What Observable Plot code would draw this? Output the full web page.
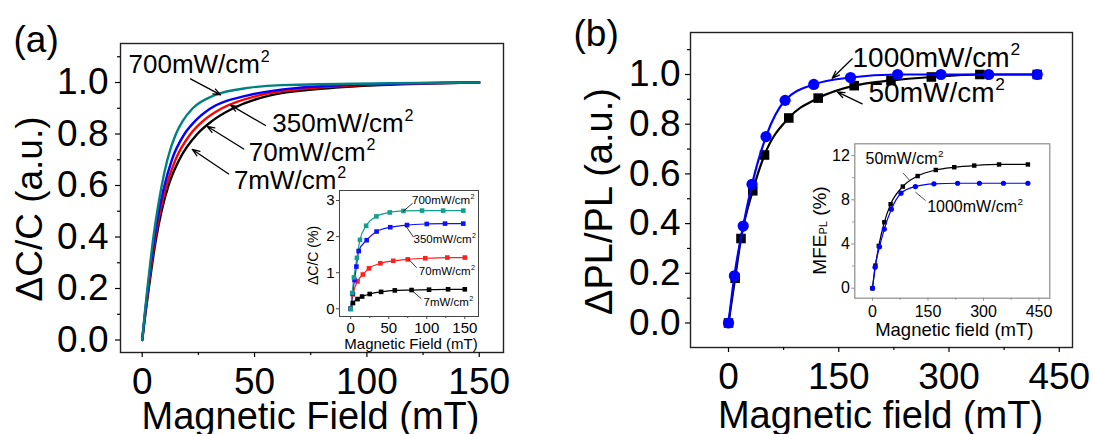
<!DOCTYPE html>
<html><head><meta charset="utf-8">
<script src="https://cdn.jsdelivr.net/npm/d3@7"></script>
<script src="https://cdn.jsdelivr.net/npm/@observablehq/plot@0.6"></script>
<style>
body{margin:0;background:#fff}
#fig{position:relative;width:1093px;height:434px;overflow:hidden;background:#fff}
</style>
</head><body><div id="fig"></div>
<script>
// ---------- Panel (a), main: normalized ΔC/C levels and field (mT) where each curve reaches them
const levelsA   = [0, 0.1, 0.2, 0.3, 0.4, 0.5, 0.6, 0.7, 0.8, 0.85, 0.9, 0.95, 0.98, 0.99, 1.0];
const fieldA700 = [0, 1.1, 2.3, 3.6, 5.0, 6.7, 8.7, 11.2, 15.0, 18.0, 22.5, 32, 48, 62, 150];
const fieldA350 = [0, 1.2, 2.5, 3.9, 5.5, 7.4, 9.9, 13.2, 18.8, 23.5, 30.5, 47, 70, 90, 150];
const fieldA70  = [0, 1.3, 2.7, 4.2, 5.9, 8.0, 10.8, 14.8, 21.5, 27, 35.5, 52, 78, 98, 150];
const fieldA7   = [0, 1.4, 2.9, 4.5, 6.3, 8.6, 11.7, 16.5, 24.5, 31, 40.5, 57, 86, 106, 150];
const seriesA   = ["7mW/cm", "70mW/cm", "350mW/cm", "700mW/cm"];
const colorsA   = ["#000000", "#ff0000", "#0000ff", "#008080"];

// ---------- Panel (a), inset: ΔC/C (%)
const fieldIA700 = [0, 2, 4.3, 8.2, 12.2, 20.3, 33.8, 51.4, 69.3, 93.8, 121.5, 148];
const dccIA700   = [0, 0.44, 0.87, 1.41, 1.91, 2.30, 2.56, 2.67, 2.71, 2.72, 2.72, 2.72];
const fieldIA350 = [0, 2.5, 5, 7.5, 10.5, 21, 34, 52, 74, 100, 124, 148];
const dccIA350   = [0, 0.42, 0.8, 1.17, 1.6, 1.9, 2.14, 2.26, 2.32, 2.35, 2.36, 2.36];
const fieldIA70  = [0, 3, 9, 16, 24, 39, 56, 75, 98, 127, 150];
const dccIA70    = [0, 0.4, 0.76, 0.95, 1.12, 1.26, 1.33, 1.37, 1.40, 1.42, 1.42];
const fieldIA7   = [0, 3, 9, 15, 25, 40, 58, 80, 103, 128, 150];
const dccIA7     = [0, 0.16, 0.27, 0.34, 0.41, 0.47, 0.51, 0.52, 0.53, 0.54, 0.54];
const colorsIA   = ["#000000", "#ff2020", "#1010ff", "#159e8c"];

// ---------- Panel (b), main: ΔPL/PL normalized
const fieldB1000 = [0, 8, 20, 32, 51, 77, 116, 166, 230, 289, 354, 420];
const plB1000    = [0, 0.19, 0.39, 0.558, 0.75, 0.896, 0.96, 0.988, 1.0, 1.0, 1.0, 1.0];
const fieldB50   = [0, 9, 17, 33, 49, 82, 122, 171, 221, 276, 342, 420];
const plB50      = [0, 0.18, 0.34, 0.532, 0.676, 0.825, 0.905, 0.955, 0.976, 0.99, 1.0, 1.0];

// ---------- Panel (b), inset: MFE_PL (%)
const fieldIB1000 = [0, 7, 19, 32, 51, 77, 116, 166, 230, 289, 354, 420];
const mfeIB1000   = [0, 1.9, 3.75, 5.35, 7.15, 8.6, 9.2, 9.45, 9.5, 9.5, 9.5, 9.5];
const fieldIB50   = [0, 8, 17, 32, 49, 82, 122, 171, 221, 275, 342, 420];
const mfeIB50     = [0, 2.05, 3.83, 5.97, 7.6, 9.2, 10.15, 10.7, 10.95, 11.1, 11.2, 11.2];

// ---------- annotations (data units of each panel)
const labelsA  = [{x: -6.1, y: 1.036, text: "700mW/cm"}, {x: 57.9, y: 0.807, text: "350mW/cm"},
                  {x: 47.4, y: 0.697, text: "70mW/cm"}, {x: 40.8, y: 0.587, text: "7mW/cm"}];
const arrowsA  = [{x1: 21.5, y1: 1.014, x2: 34.9, y2: 0.952}, {x1: 54.9, y1: 0.833, x2: 39.3, y2: 0.912},
                  {x1: 45.2, y1: 0.742, x2: 28.9, y2: 0.83}, {x1: 38.5, y1: 0.645, x2: 22.3, y2: 0.74}];
const labelsIA = [{x: 80.6, y: 2.909, text: "700mW/cm"}, {x: 82.6, y: 1.828, text: "350mW/cm"},
                  {x: 89.6, y: 0.950, text: "70mW/cm"}, {x: 95.7, y: 0.072, text: "7mW/cm"}];
const leadersIA = [{x1: 69.1, y1: 2.70, x2: 81.4, y2: 2.925}, {x1: 72.4, y1: 2.30, x2: 82.6, y2: 1.983},
                   {x1: 76.4, y1: 1.37, x2: 86.7, y2: 1.136}, {x1: 79.8, y1: 0.52, x2: 92.9, y2: 0.277}];
const labelsB  = [{x: 168.7, y: 1.032, text: "1000mW/cm"}, {x: 190.5, y: 0.889, text: "50mW/cm"}];
const arrowsB  = [{x1: 168.3, y1: 1.063, x2: 141.1, y2: 0.985}, {x1: 181.9, y1: 0.882, x2: 147.9, y2: 0.93}];
const labelsIB = [{x: -18.9, y: 11.26, text: "50mW/cm"}, {x: 147.8, y: 6.88, text: "1000mW/cm"}];
const leadersIB = [{x1: 83, y1: 10.41, x2: 100.8, y2: 9.75}, {x1: 116.2, y1: 8.69, x2: 143.2, y2: 7.94}];

// ---------- helpers
const FONT = "'Liberation Sans', Arial, Helvetica, sans-serif";
const fig = document.getElementById("fig");
const ctx = document.createElement("canvas").getContext("2d");
function tw(s, size) { ctx.font = `${size}px 'Liberation Sans'`; return ctx.measureText(s).width; }
function place(svg, left, top) {
  svg.style.position = "absolute"; svg.style.left = left + "px"; svg.style.top = top + "px";
  svg.style.maxWidth = "none"; svg.style.overflow = "visible";
  fig.appendChild(svg);
}
function rows(names, xs, ys) {
  const out = [];
  names.forEach((n, i) => xs[i].forEach((x, j) => out.push({series: n, x, y: Array.isArray(ys[0]) ? ys[i][j] : ys[j]})));
  return out;
}
// label with a superscript "2"
function supLabels(data, size) {
  const marks = [];
  for (const d of data) {
    marks.push(Plot.text([d], {x: "x", y: "y", text: "text", textAnchor: "start", lineAnchor: "bottom", fontSize: size, fill: "black"}));
    marks.push(Plot.text([d], {x: "x", y: "y", text: () => "2", textAnchor: "start", lineAnchor: "bottom",
      fontSize: size * 0.62, dx: tw(d.text, size) + size * 0.03, dy: -size * 0.42, fill: "black"}));
  }
  return marks;
}
const baseStyle = {fontFamily: FONT, background: "transparent", color: "black", overflow: "visible"};
const f1 = d3.format(".1f");
const f0 = d3.format("d");
const blank = () => "";

// ================= Panel (a) main =================
const dataA = rows(seriesA, [fieldA7, fieldA70, fieldA350, fieldA700], levelsA);
const plotA = Plot.plot({
  width: 546, height: 434, marginLeft: 120, marginRight: 43, marginTop: 43, marginBottom: 82,
  x: {domain: [-9.66, 160.8]}, y: {domain: [-0.0485, 1.1515]},
  color: {domain: seriesA, range: colorsA},
  style: baseStyle,
  marks: [
    Plot.frame({stroke: "#222", strokeWidth: 1.4}),
    Plot.axisX({ticks: [0, 50, 100, 150], tickSize: 5, tickPadding: 10, fontSize: 37, label: null, strokeWidth: 1.2}),
    Plot.axisX({ticks: [25, 75, 125], tickSize: 3, tickFormat: blank, label: null, strokeWidth: 1.2}),
    Plot.axisY({ticks: [0, 0.2, 0.4, 0.6, 0.8, 1.0], tickSize: 5, tickPadding: 7, fontSize: 37, label: null, tickFormat: f1, strokeWidth: 1.2}),
    Plot.axisY({ticks: [0.1, 0.3, 0.5, 0.7, 0.9, 1.1], tickSize: 3, tickFormat: blank, label: null, strokeWidth: 1.2}),
    Plot.line(dataA, {x: "x", y: "y", z: "series", stroke: "series", strokeWidth: 2.4, curve: "monotone-x"}),
    Plot.arrow(arrowsA, {x1: "x1", y1: "y1", x2: "x2", y2: "y2", stroke: "black", strokeWidth: 1.3, headLength: 9, headAngle: 40}),
    ...supLabels(labelsA, 26),
    Plot.text(["Magnetic Field (mT)"], {frameAnchor: "bottom", dy: 76, dx: -1.5, lineAnchor: "bottom", fontSize: 38}),
    Plot.text(["ΔC/C (a.u.)"], {frameAnchor: "left", rotate: -90, dx: -90, dy: 11, textAnchor: "middle", lineAnchor: "middle", fontSize: 37}),
    Plot.text(["(a)"], {frameAnchor: "top-left", dx: -107, dy: 8, textAnchor: "start", lineAnchor: "bottom", fontSize: 37})
  ]
});
place(plotA, 0, 0);

// ================= Panel (a) inset =================
const dataIA = rows(seriesA, [fieldIA7, fieldIA70, fieldIA350, fieldIA700], [dccIA7, dccIA70, dccIA350, dccIA700]);
const plotIA = Plot.plot({
  width: 210, height: 175, marginLeft: 49, marginRight: 22, marginTop: 10, marginBottom: 39,
  x: {domain: [-14.7, 168]}, y: {domain: [-0.213, 3.277]},
  color: {domain: seriesA, range: colorsIA},
  style: baseStyle,
  marks: [
    Plot.frame({stroke: "#444", strokeWidth: 1}),
    Plot.axisX({ticks: [0, 50, 100, 150], tickSize: 3, tickPadding: 3, fontSize: 15, label: null, stroke: "#444"}),
    Plot.axisX({ticks: [25, 75, 125], tickSize: 2, tickFormat: blank, label: null, stroke: "#444"}),
    Plot.axisY({ticks: [0, 1, 2, 3], tickSize: 3, tickPadding: 2, fontSize: 15, label: null, tickFormat: f0, stroke: "#444"}),
    Plot.line(dataIA, {x: "x", y: "y", z: "series", stroke: "series", strokeWidth: 1.2, curve: "monotone-x"}),
    Plot.dot(dataIA, {x: "x", y: "y", fill: "series", symbol: "square", r: 2.6}),
    Plot.link(leadersIA, {x1: "x1", y1: "y1", x2: "x2", y2: "y2", stroke: "black", strokeWidth: 0.8}),
    ...supLabels(labelsIA, 11.5),
    Plot.text(["Magnetic Field (mT)"], {frameAnchor: "bottom", dy: 32.3, dx: 2, lineAnchor: "bottom", fontSize: 15}),
    Plot.text(["ΔC/C (%)"], {frameAnchor: "left", rotate: -90, dx: -26, dy: 2, textAnchor: "middle", lineAnchor: "middle", fontSize: 14})
  ]
});
place(plotIA, 290, 180);

// ================= Panel (b) main =================
const plotB = Plot.plot({
  width: 547, height: 434, marginLeft: 144, marginRight: 21, marginTop: 32, marginBottom: 87,
  x: {domain: [-51.7, 468.0]}, y: {domain: [-0.0986, 1.169]},
  style: baseStyle,
  marks: [
    Plot.frame({stroke: "#222", strokeWidth: 1.4}),
    Plot.axisX({ticks: [0, 150, 300, 450], tickSize: 5, tickPadding: 10, fontSize: 37, label: null, strokeWidth: 1.2}),
    Plot.axisX({ticks: [75, 225, 375], tickSize: 3, tickFormat: blank, label: null, strokeWidth: 1.2}),
    Plot.axisY({ticks: [0, 0.2, 0.4, 0.6, 0.8, 1.0], tickSize: 5, tickPadding: 5, fontSize: 37, label: null, tickFormat: f1, strokeWidth: 1.2}),
    Plot.axisY({ticks: [0.1, 0.3, 0.5, 0.7, 0.9, 1.1], tickSize: 3, tickFormat: blank, label: null, strokeWidth: 1.2}),
    Plot.line(fieldB50, {x: (d) => d, y: (d, i) => plB50[i], stroke: "black", strokeWidth: 2.2, curve: "monotone-x"}),
    Plot.dot(fieldB50, {x: (d) => d, y: (d, i) => plB50[i], fill: "black", symbol: "square", r: 5.4}),
    Plot.line(fieldB1000, {x: (d) => d, y: (d, i) => plB1000[i], stroke: "#0000ff", strokeWidth: 2.2, curve: "monotone-x"}),
    Plot.dot(fieldB1000, {x: (d) => d, y: (d, i) => plB1000[i], fill: "#0000ff", r: 5.6}),
    Plot.arrow(arrowsB, {x1: "x1", y1: "y1", x2: "x2", y2: "y2", stroke: "black", strokeWidth: 1.3, headLength: 9, headAngle: 40}),
    ...supLabels(labelsB, 28),
    Plot.text(["Magnetic field (mT)"], {frameAnchor: "bottom", dy: 80, dx: -1, lineAnchor: "bottom", fontSize: 38}),
    Plot.text(["ΔPL/PL (a.u.)"], {frameAnchor: "left", rotate: -90, dx: -91, dy: 11.5, textAnchor: "middle", lineAnchor: "middle", fontSize: 38}),
    Plot.text(["(b)"], {frameAnchor: "top-left", dx: -117, dy: 13, textAnchor: "start", lineAnchor: "bottom", fontSize: 37})
  ]
});
place(plotB, 546, 0);

// ================= Panel (b) inset =================
const wM = tw("MFE", 19), wP = tw("PL", 11), wR = tw(" (%)", 19), T = wM + wP + wR;
const yc = 9.5; // vertical center offset from frame middle
const plotIB = Plot.plot({
  width: 260, height: 215, marginLeft: 54.3, marginRight: 10.7, marginTop: 13.3, marginBottom: 47.3,
  x: {domain: [-47.8, 479.2]}, y: {domain: [-0.905, 13.07]},
  style: baseStyle,
  marks: [
    Plot.frame({stroke: "#8c8c8c", strokeWidth: 1.2}),
    Plot.axisX({ticks: [0, 150, 300, 450], tickSize: 3, tickPadding: 4, fontSize: 16, label: null, stroke: "#8c8c8c"}),
    Plot.axisX({ticks: [75, 225, 375], tickSize: 2, tickFormat: blank, label: null, stroke: "#8c8c8c"}),
    Plot.axisY({ticks: [0, 4, 8, 12], tickSize: 3, tickPadding: 2, fontSize: 16, label: null, stroke: "#8c8c8c"}),
    Plot.axisY({ticks: [2, 6, 10], tickSize: 2, tickFormat: blank, label: null, stroke: "#8c8c8c"}),
    Plot.line(fieldIB50, {x: (d) => d, y: (d, i) => mfeIB50[i], stroke: "black", strokeWidth: 1.2, curve: "monotone-x"}),
    Plot.dot(fieldIB50, {x: (d) => d, y: (d, i) => mfeIB50[i], fill: "black", symbol: "square", r: 2.5}),
    Plot.line(fieldIB1000, {x: (d) => d, y: (d, i) => mfeIB1000[i], stroke: "#0000ff", strokeWidth: 1.2, curve: "monotone-x"}),
    Plot.dot(fieldIB1000, {x: (d) => d, y: (d, i) => mfeIB1000[i], fill: "#0000ff", r: 2.6}),
    Plot.link(leadersIB, {x1: "x1", y1: "y1", x2: "x2", y2: "y2", stroke: "#333", strokeWidth: 0.9}),
    ...supLabels(labelsIB, 16),
    Plot.text(["Magnetic field (mT)"], {frameAnchor: "bottom", dy: 38, dx: 2, lineAnchor: "bottom", fontSize: 18.5}),
    Plot.text(["MFE"], {frameAnchor: "left", rotate: -90, dx: -35.3, dy: yc + T / 2, textAnchor: "start", lineAnchor: "middle", fontSize: 19}),
    Plot.text(["PL"], {frameAnchor: "left", rotate: -90, dx: -35.3 + 4, dy: yc + T / 2 - wM, textAnchor: "start", lineAnchor: "middle", fontSize: 11}),
    Plot.text([" (%)"], {frameAnchor: "left", rotate: -90, dx: -35.3, dy: yc + T / 2 - wM - wP, textAnchor: "start", lineAnchor: "middle", fontSize: 19})
  ]
});
place(plotIB, 800, 130);
</script></body></html>
